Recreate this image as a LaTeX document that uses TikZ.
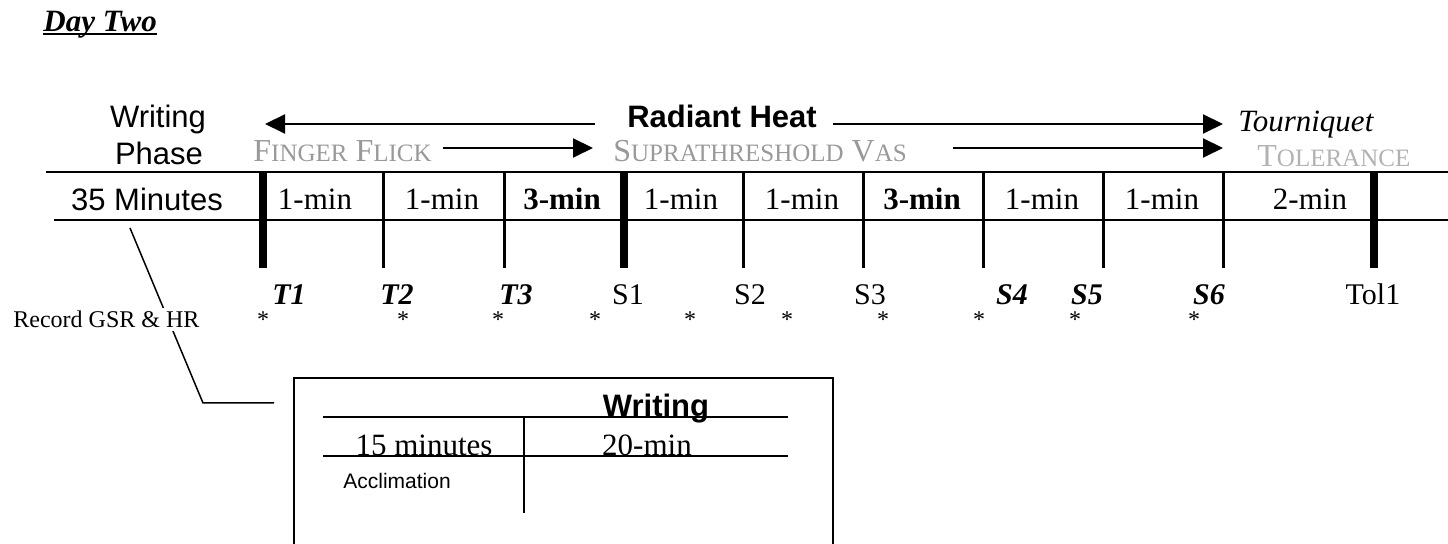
\documentclass[tikz,border=0pt]{standalone}
\usepackage{fontspec}
\setmainfont{Liberation Serif}
\setsansfont{Liberation Sans}
\usetikzlibrary{arrows.meta}
\definecolor{flickgray}{gray}{0.6}
\definecolor{tolgray}{gray}{0.7}
\newcommand{\sz}[1]{\fontsize{#1pt}{#1pt}\selectfont}
\newcommand{\lowcap}[1]{{\fontsize{12.5pt}{12.5pt}\selectfont #1}}

\begin{document}
\begin{tikzpicture}
  [x=0.5pt,y=-0.5pt,
   every node/.style={inner sep=0pt,anchor=base},
   cell/.style={font=\sz{15.5}},
   cellb/.style={font=\bfseries\sz{15.5}},
   phase/.style={font=\sffamily\sz{15.5}},
   tb/.style={font=\bfseries\itshape\sz{15}},
   tr/.style={font=\sz{15}},
   phasecap/.style={font=\sz{16},text=flickgray,anchor=base west},
   aster/.style={font=\sz{12}},
   rule/.style={line width=1pt},
   thintick/.style={line width=1.5pt},
   thicktick/.style={line width=4pt},
   arr/.style={line width=1pt,-{Triangle[length=10pt,width=9.5pt]}}]
  \useasboundingbox (0,0) rectangle (1448,544);

  \node[font=\bfseries\itshape\sz{15.5},anchor=base west] (day) at (43,32) {Day Two};
  \draw[line width=1pt] ([yshift=-1.2pt]day.base west) -- ([yshift=-1.2pt]day.base east);

  % header
  \node[phase] (wr) at (158,128) {Writing};
  \node[phase] (ph) at (159,165) {Phase};
  \node[phase,font=\sffamily\bfseries\sz{15.5}] (rh) at (722,128) {Radiant Heat};
  \node[font=\itshape\sz{15.5},anchor=base west] (tq) at (1238,132) {Tourniquet};
  \node[phasecap] (ff) at (253,162) {F\lowcap{INGER} F\lowcap{LICK}};
  \node[phasecap] (sv) at (613,162) {S\lowcap{UPRATHRESHOLD} V\lowcap{AS}};
  \node[phasecap,text=tolgray] (tol) at (1257,167) {T\lowcap{OLERANCE}};

  \coordinate (rhL) at (265,124);
  \coordinate (rhA) at (595,124);
  \coordinate (rhB) at (833,124);
  \coordinate (rhR) at (1223,124);
  \coordinate (ffA) at (443,148);
  \coordinate (ffB) at (593,148);
  \coordinate (svA) at (953,148);
  \coordinate (svB) at (1223,148);
  \draw[arr] (rhA) -- (rhL);
  \draw[arr] (rhB) -- (rhR);
  \draw[arr] (ffA) -- (ffB);
  \draw[arr] (svA) -- (svB);

  % time line
  \draw[rule] (46,172) -- (1450,172);
  \draw[rule] (54,220) -- (1450,220);
  \foreach \x in {383,504,743,863,983,1103,1223}
    \draw[thintick] (\x,172) -- (\x,268);
  \foreach \x in {263,624,1374}
    \draw[thicktick] (\x,172) -- (\x,268);

  \node[phase] (mins) at (147,211) {35 Minutes};
  \foreach \x/\t/\s [count=\i] in {315/1-min/cell, 442/1-min/cell, 562/3-min/cellb,
    681/1-min/cell, 802/1-min/cell, 922/3-min/cellb, 1042/1-min/cell,
    1162/1-min/cell, 1310/2-min/cell}
    \node[\s] (c\i) at (\x,210) {\t};

  \foreach \lab/\x/\s in {T1/289/tb, T2/397/tb, T3/516/tb, S1/628/tr, S2/750/tr,
    S3/870/tr, S4/1012/tb, S5/1087/tb, S6/1209/tb, Tol1/1373/tr}
    \node[\s] (\lab) at (\x,305) {\lab};

  \foreach \x [count=\i] in {263,403,498,595,690,787,883,979,1075,1194}
    \node[aster] (a\i) at (\x,328) {*};

  % lead to the writing box
  \coordinate (lead0) at (130,228);
  \coordinate (lead1) at (203,403);
  \coordinate (lead2) at (274,403);
  \draw[line width=0.75pt] (lead0) -- (lead1) -- (lead2);
  \node[tr,font=\sz{12},anchor=base west,fill=white,inner sep=1.5pt] (rec) at (10,328) {Record GSR \& HR};

  % writing box
  \draw[line width=0.8pt] (294,548) |- (833,378) -- (833,548);
  \draw[line width=0.9pt] (323,417) -- (788,417);
  \draw[line width=0.9pt] (323,456) -- (788,456);
  \draw[line width=0.8pt] (524,417) -- (524,513);
  \node[phase,font=\sffamily\bfseries\sz{15.5}] (wt) at (656,417) {Writing};
  \node[cell] (acc15) at (424,456) {15 minutes};
  \node[cell] (wr20) at (647,456) {20-min};
  \node[font=\sffamily\sz{10.5},anchor=base west] (accl) at (343,489) {Acclimation};
\end{tikzpicture}
\end{document}
